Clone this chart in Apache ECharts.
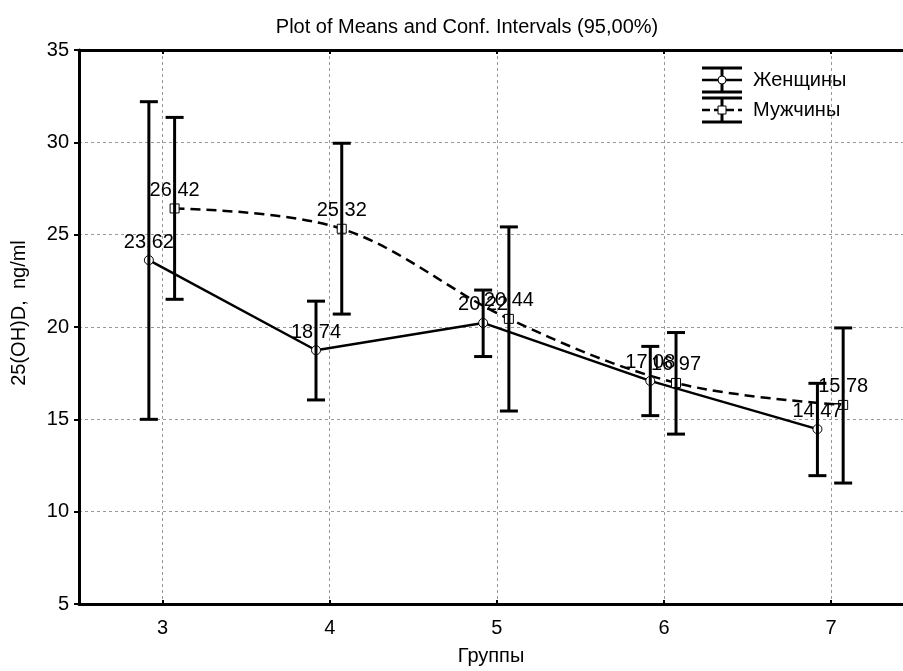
<!DOCTYPE html>
<html>
<head>
<meta charset="utf-8">
<script src="https://cdn.jsdelivr.net/npm/echarts@6/dist/echarts.min.js"></script>
<style>
html, body { margin: 0; padding: 0; background: #fff; }
#chart { width: 903px; height: 671px; }
</style>
</head>
<body>
<div id="chart"></div>
<script>
// Группы и средние с 95% доверительными интервалами
const groups = [3, 4, 5, 6, 7];
const womenMeans = [23.62, 18.74, 20.22, 17.08, 14.47];
const womenLow = [15.0, 16.05, 18.4, 15.2, 11.95];
const womenHigh = [32.2, 21.4, 22.0, 18.95, 16.95];
const menMeans = [26.42, 25.32, 20.44, 16.97, 15.78];
const menLow = [21.5, 20.7, 15.45, 14.2, 11.55];
const menHigh = [31.35, 29.95, 25.42, 19.7, 19.95];
const yTicks = [5, 10, 15, 20, 25, 30, 35];

const FONT = "Liberation Sans";
const WOMEN_SHIFT = -0.082;
const MEN_SHIFT = 0.072;

const chart = echarts.init(document.getElementById("chart"));

// точки со сдвигом по x, чтобы интервалы не накладывались
function points(means, shift) {
    return groups.map((g, i) => [g + shift, means[i]]);
}

function bars(low, high, shift) {
    return groups.map((g, i) => [g + shift, low[i], high[i]]);
}

// вертикальный отрезок с засечками
function renderErrorBar(params, api) {
    const x = api.value(0);
    const lo = api.coord([x, api.value(1)]);
    const hi = api.coord([x, api.value(2)]);
    const half = 9;
    const style = { stroke: "#000", lineWidth: 3 };
    return {
        type: "group",
        children: [
            { type: "line", shape: { x1: lo[0], y1: lo[1], x2: hi[0], y2: hi[1] }, style },
            { type: "line", shape: { x1: lo[0] - half, y1: lo[1], x2: lo[0] + half, y2: lo[1] }, style },
            { type: "line", shape: { x1: hi[0] - half, y1: hi[1], x2: hi[0] + half, y2: hi[1] }, style }
        ]
    };
}

const labelFormatter = (p) => p.value[1].toFixed(2).replace(".", ",");
const valueLabel = {
    show: true, position: "top", distance: 3,
    fontFamily: FONT, fontSize: 20, color: "#000", formatter: labelFormatter
};

// легенда: значки в виде интервалов
function legendIcon(y, marker, dashed) {
    const style = { stroke: "#000", lineWidth: 3 };
    const children = [
        { type: "line", shape: { x1: 702, y1: y - 12, x2: 742, y2: y - 12 }, style },
        { type: "line", shape: { x1: 702, y1: y + 12, x2: 742, y2: y + 12 }, style },
        { type: "line", shape: { x1: 722, y1: y - 12, x2: 722, y2: y + 12 }, style },
        { type: "line", shape: { x1: 702, y1: y, x2: 742, y2: y },
          style: { stroke: "#000", lineWidth: 2.5, lineDash: dashed ? [8, 4] : null } }
    ];
    if (marker === "circle") {
        children.push({ type: "circle", shape: { cx: 722, cy: y, r: 4 },
            style: { fill: "#fff", stroke: "#000", lineWidth: 1 }, z: 10 });
    } else {
        children.push({ type: "rect", shape: { x: 718, y: y - 4, width: 8, height: 8 },
            style: { fill: "#fff", stroke: "#000", lineWidth: 1 }, z: 10 });
    }
    return children;
}

chart.setOption({
    animation: false,
    backgroundColor: "#fff",
    title: {
        text: "Plot of Means and Conf. Intervals (95,00%)",
        left: 462, top: 12, textAlign: "center",
        textStyle: { fontFamily: FONT, fontSize: 20, fontWeight: "normal", color: "#000" }
    },
    grid: { left: 79, right: 0, top: 50, bottom: 67 },
    xAxis: [
        {
            type: "value", min: 2.5, max: 7.43,
            name: "Группы", nameLocation: "middle", nameGap: 42,
            nameTextStyle: { fontFamily: FONT, fontSize: 20, color: "#000" },
            axisLine: { show: true, lineStyle: { color: "#000", width: 3 } },
            axisTick: { show: true, inside: true, length: 4, customValues: groups,
                lineStyle: { color: "#000", width: 2 } },
            axisLabel: { customValues: groups, margin: 14,
                fontFamily: FONT, fontSize: 20, color: "#000" },
            splitLine: { show: true, lineStyle: { color: "#999", type: [3, 3], width: 1 } }
        },
        {
            type: "value", min: 2.5, max: 7.43, position: "top",
            axisLine: { show: true, lineStyle: { color: "#000", width: 3 } },
            axisTick: { show: true, inside: true, length: 4, customValues: groups,
                lineStyle: { color: "#000", width: 2 } },
            axisLabel: { show: false },
            splitLine: { show: false }
        }
    ],
    yAxis: {
        type: "value", min: 5, max: 35, interval: 5,
        name: "25(OH)D,  ng/ml", nameLocation: "middle", nameGap: 50,
        nameTextStyle: { fontFamily: FONT, fontSize: 20, color: "#000", padding: [0, 0, 0, 28] },
        axisLine: { show: true, lineStyle: { color: "#000", width: 3 } },
        axisTick: { show: true, length: 5, lineStyle: { color: "#000", width: 2 } },
        axisLabel: { margin: 10, fontFamily: FONT, fontSize: 20, color: "#000",
            customValues: yTicks },
        splitLine: { show: true, lineStyle: { color: "#999", type: [3, 3], width: 1 } }
    },
    graphic: [
        { type: "group", children: legendIcon(80, "circle", false) },
        { type: "group", children: legendIcon(110, "rect", true) },
        { type: "text", left: 753, top: 70,
          style: { text: "Женщины", fontFamily: FONT, fontSize: 20, fill: "#000" } },
        { type: "text", left: 753, top: 100,
          style: { text: "Мужчины", fontFamily: FONT, fontSize: 20, fill: "#000" } }
    ],
    series: [
        {
            name: "Женщины", type: "line", z: 3,
            data: points(womenMeans, WOMEN_SHIFT),
            symbol: "circle", symbolSize: 9,
            lineStyle: { color: "#000", width: 2.5 },
            itemStyle: { color: "#fff", borderColor: "#000", borderWidth: 1 },
            label: valueLabel
        },
        {
            name: "Мужчины", type: "line", z: 3, smooth: 0.35,
            data: points(menMeans, MEN_SHIFT),
            symbol: "rect", symbolSize: 9,
            lineStyle: { color: "#000", width: 2.5, type: [10, 6] },
            itemStyle: { color: "#fff", borderColor: "#000", borderWidth: 1 },
            label: valueLabel
        },
        {
            name: "ДИ Женщины", type: "custom", z: 5,
            data: bars(womenLow, womenHigh, WOMEN_SHIFT),
            renderItem: renderErrorBar
        },
        {
            name: "ДИ Мужчины", type: "custom", z: 5,
            data: bars(menLow, menHigh, MEN_SHIFT),
            renderItem: renderErrorBar
        }
    ]
});
</script>
</body>
</html>
